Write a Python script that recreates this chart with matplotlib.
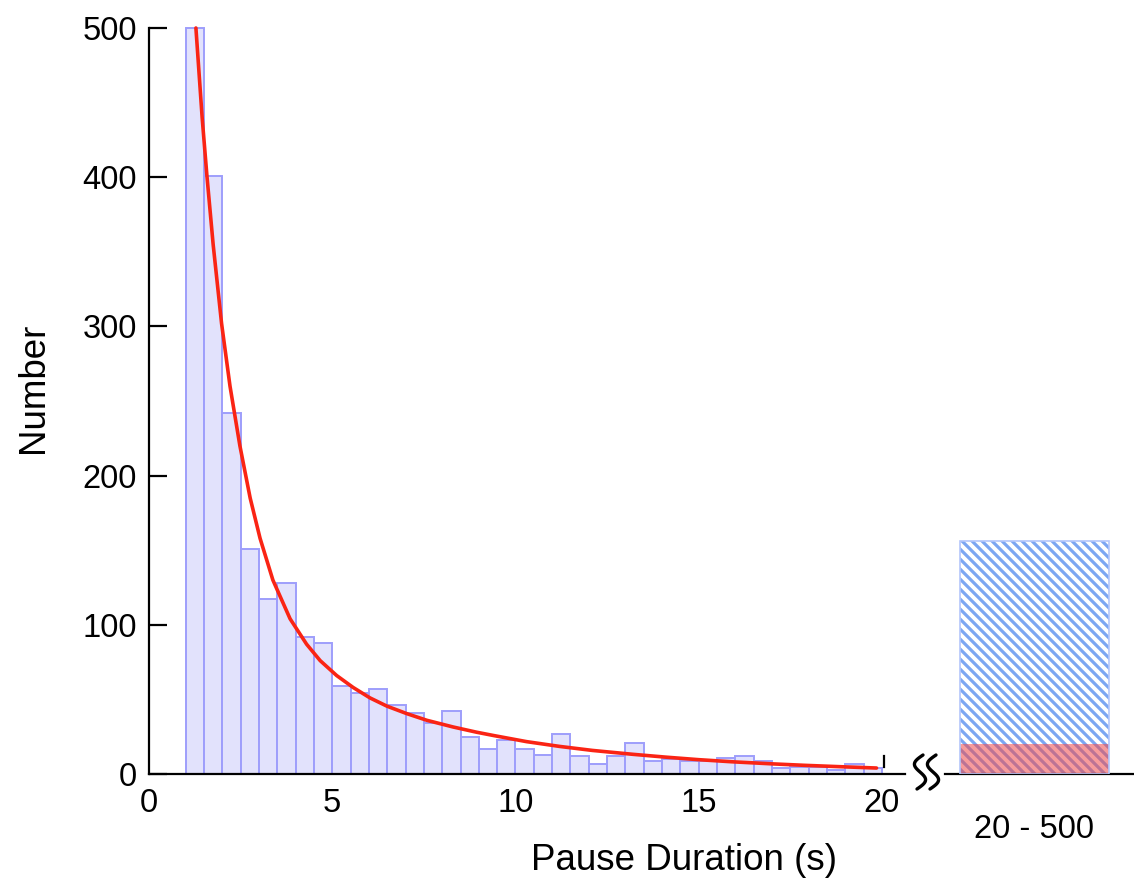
import matplotlib
matplotlib.use("Agg")
import matplotlib.pyplot as plt
from matplotlib.lines import Line2D
from matplotlib.patches import Rectangle
import numpy as np

plt.rcParams['font.family'] = ['Liberation Sans', 'DejaVu Sans']

# Histogram of pause durations, 0.5 s bins from 1 s to 20 s
bin_width = 0.5
bin_left = [1.0, 1.5, 2.0, 2.5, 3.0, 3.5, 4.0, 4.5, 5.0, 5.5,
            6.0, 6.5, 7.0, 7.5, 8.0, 8.5, 9.0, 9.5, 10.0, 10.5,
            11.0, 11.5, 12.0, 12.5, 13.0, 13.5, 14.0, 14.5, 15.0, 15.5,
            16.0, 16.5, 17.0, 17.5, 18.0, 18.5, 19.0, 19.5]
counts = [500, 401, 242, 151, 117, 128, 92, 88, 59, 54,
          57, 46, 41, 34, 42, 25, 17, 23, 17, 13,
          27, 12, 7, 12, 21, 9, 10, 9, 9, 11,
          12, 9, 4, 5, 5, 3, 7, 4]

# Fitted decay curve
fit_x = [1.28, 1.45, 1.58, 1.75, 1.98, 2.21, 2.48, 2.76, 3.03, 3.38,
         3.85, 4.30, 4.67, 5.12, 5.57, 6.03, 6.49, 7.03, 7.58, 8.30,
         8.94, 9.40, 10.3, 11.2, 12.1, 13.2, 14.1, 15.0, 15.9, 17.0,
         17.9, 18.85, 19.85]
fit_y = [500, 440, 401, 355, 302, 260, 220, 185, 158, 130,
         104, 87, 76, 66, 58, 51, 45.5, 40.5, 36, 31.5,
         28, 25.8, 21.7, 18.5, 15.8, 13.2, 11.3, 9.6, 8.2, 6.8,
         5.8, 4.9, 4.0]

# Long pauses pooled into one bin
long_label = "20 - 500"
long_observed = 156
long_fit = 20

W, H = 1134, 883
fig = plt.figure(figsize=(W / 100, H / 100), dpi=100)

def px_rect(x0, y_top, x1, y_bot):
    return [x0 / W, 1 - y_bot / H, (x1 - x0) / W, (y_bot - y_top) / H]

ax = fig.add_axes(px_rect(149, 28, 905, 774))
ax.bar(bin_left, counts, width=bin_width, align='edge',
       color='#e2e2fc', edgecolor='#9e9efb', linewidth=1.4, clip_on=False, zorder=2)
ax.plot(fit_x, fit_y, color='#fa2414', linewidth=2.6, solid_joinstyle='round',
        solid_capstyle='round', zorder=3, clip_on=False)
ax.plot([20.05, 20.05], [5, 12], color='black', linewidth=1.6, zorder=4, clip_on=False)

ax.set_xlim(0, 756 / 36.65)
ax.set_ylim(0, 500)
ax.set_xticks([0, 5, 10, 15, 20])
ax.set_yticks([0, 100, 200, 300, 400, 500])
ax.tick_params(axis='y', direction='in', length=13, width=1.6, labelsize=23.5, pad=8.5)
ax.tick_params(axis='x', length=0, labelsize=23.5, pad=10)
for s in ('top', 'right'):
    ax.spines[s].set_visible(False)
ax.spines['left'].set_linewidth(1.6)
ax.spines['bottom'].set_linewidth(1.6)
ax.spines['left'].set_bounds(0, 500)
ax.patch.set_alpha(0)

# Side panel for the pooled long-pause bin (x in pixels of the panel)
ax2 = fig.add_axes(px_rect(945, 28, 1134, 774))
ax2.set_xlim(0, 189)
ax2.set_ylim(0, 500)
bar_x0, bar_w = 15, 149
ax2.bar([bar_x0], [long_observed], width=bar_w, align='edge', color='none',
        edgecolor='#b4c6fb', linewidth=1.2, zorder=4)

# diagonal hatching, clipped to the observed bar
clip = Rectangle((bar_x0, 0), bar_w, long_observed, transform=ax2.transData,
                 facecolor='none', edgecolor='none')
ax2.add_patch(clip)
unit = 746 / 500  # pixels per count
top_px = long_observed * unit
spacing = 10.0
for c in np.arange(-top_px, bar_w + top_px, spacing):
    xs = np.array([bar_x0 + c, bar_x0 + c + top_px + 10])
    ys = np.array([top_px + 5, -5]) / unit
    ln = Line2D(xs, ys, color='#7ca6f2', linewidth=2.3, zorder=2)
    ax2.add_line(ln)
    ln.set_clip_path(clip)

ax2.bar([bar_x0], [long_fit], width=bar_w, align='edge', color='#f24a4a',
        alpha=0.55, linewidth=0, zorder=3)
ax2.set_xticks([])
ax2.set_yticks([])
for s in ('top', 'right', 'left'):
    ax2.spines[s].set_visible(False)
ax2.spines['bottom'].set_linewidth(1.6)
ax2.patch.set_alpha(0)

fig.text(1034 / W, 1 - 830 / H, long_label, fontsize=23.5, ha='center', va='center')
fig.text(684 / W, 1 - 860 / H, "Pause Duration (s)", fontsize=26.5, ha='center', va='center')
fig.text(33 / W, 1 - 388 / H, "Number", fontsize=26.5, ha='center', va='center', rotation=90)

# Axis-break mark between the two panels
t = np.linspace(0, 1, 80)
for xc in (920, 933):
    ys = 755 + 34 * t
    xs = xc - 7 * np.sin(2 * np.pi * t) + 6 * (0.5 - t)
    fig.add_artist(Line2D(xs / W, 1 - ys / H, transform=fig.transFigure,
                          color='black', linewidth=2.4, solid_capstyle='round'))

fig.savefig("out.png", dpi=100)
